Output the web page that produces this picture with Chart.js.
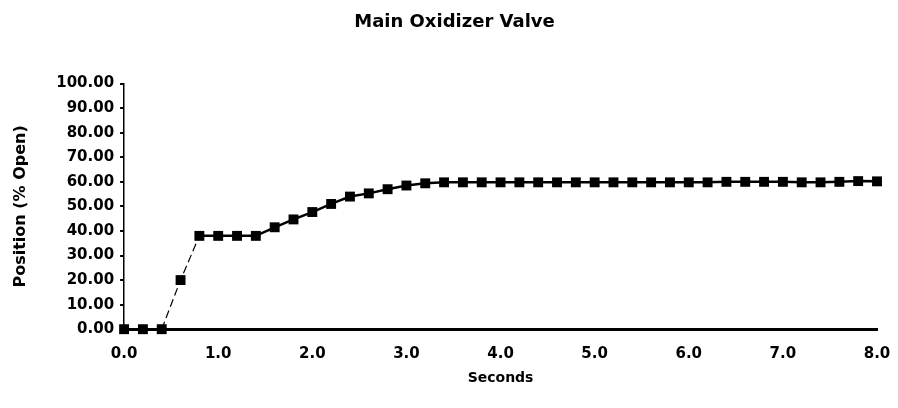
<!DOCTYPE html>
<html>
<head>
<meta charset="utf-8">
<script src="https://cdn.jsdelivr.net/npm/chart.js@4.4.0/dist/chart.umd.min.js"></script>
<style>
  html, body { margin: 0; padding: 0; background: #fff; }
  #wrap { width: 898px; height: 408px; position: relative; }
</style>
</head>
<body>
<div id="wrap"><canvas id="valveChart"></canvas></div>
<script>
// Time samples (seconds) and valve position (% open)
const seconds = [
  0.0, 0.2, 0.4, 0.6, 0.8, 1.0, 1.2, 1.4, 1.6, 1.8,
  2.0, 2.2, 2.4, 2.6, 2.8, 3.0, 3.2, 3.4, 3.6, 3.8,
  4.0, 4.2, 4.4, 4.6, 4.8, 5.0, 5.2, 5.4, 5.6, 5.8,
  6.0, 6.2, 6.4, 6.6, 6.8, 7.0, 7.2, 7.4, 7.6, 7.8, 8.0
];
const position = [
  0, 0, 0, 20, 38, 38, 38, 38, 41.5, 44.7,
  47.7, 51, 54, 55.3, 57, 58.5, 59.4, 59.8, 59.8, 59.8,
  59.8, 59.8, 59.8, 59.8, 59.8, 59.8, 59.8, 59.8, 59.8, 59.8,
  59.8, 59.8, 60, 60, 60, 60, 59.8, 59.8, 60, 60.3, 60.2
];
const xTicks = [0, 1, 2, 3, 4, 5, 6, 7, 8];
const yTicks = [0, 10, 20, 30, 40, 50, 60, 70, 80, 90, 100];

const points = seconds.map((s, i) => ({ x: s, y: position[i] }));
const fontFam = '"DejaVu Sans", sans-serif';
const steep = ctx => Math.abs(ctx.p1.parsed.y - ctx.p0.parsed.y) > 10;

new Chart(document.getElementById('valveChart'), {
    type: 'line',
    data: {
        datasets: [{
            label: 'Main Oxidizer Valve',
            data: points,
            borderColor: '#000',
            backgroundColor: '#000',
            borderWidth: 2.5,
            pointStyle: 'rect',
            pointRadius: 7,
            pointBorderWidth: 0,
            tension: 0,
            clip: false,
            segment: {
                // the steep opening ramp is drawn with a broken line
                borderDash: ctx => steep(ctx) ? [8, 4] : undefined,
                borderWidth: ctx => steep(ctx) ? 1.2 : 2.5
            }
        }]
    },
    options: {
        responsive: true,
        maintainAspectRatio: false,
        animation: false,
        layout: { autoPadding: false, padding: { top: 0, right: 0, bottom: 21, left: 11 } },
        plugins: {
            legend: { display: false },
            tooltip: { enabled: false },
            title: {
                display: true,
                text: 'Main Oxidizer Valve',
                color: '#000',
                font: { family: fontFam, size: 18, weight: 'bold' },
                padding: { top: 12, bottom: 50 }
            }
        },
        scales: {
            x: {
                type: 'linear',
                min: 0,
                max: 8,
                afterBuildTicks: axis => { axis.ticks = xTicks.map(v => ({ value: v })); },
                afterFit: axis => { axis.paddingRight = 21; },
                grid: { display: false, drawTicks: false },
                border: { display: true, color: '#000', width: 3 },
                ticks: {
                    color: '#000',
                    padding: 16,
                    font: { family: fontFam, size: 15, weight: 'bold' },
                    callback: v => v.toFixed(1)
                },
                title: {
                    display: true,
                    text: 'Seconds',
                    color: '#000',
                    font: { family: fontFam, size: 14, weight: 'bold' },
                    padding: { top: -9, bottom: 0 }
                }
            },
            y: {
                min: 0,
                max: 100,
                afterBuildTicks: axis => { axis.ticks = yTicks.map(v => ({ value: v })); },
                grid: { drawOnChartArea: false, drawTicks: true, tickLength: 4, color: '#000', lineWidth: 2 },
                border: { display: true, color: '#000', width: 1.5, dash: [3, 4] },
                ticks: {
                    color: '#000',
                    padding: 6,
                    font: { family: fontFam, size: 15, weight: 'bold' },
                    callback: v => v.toFixed(2)
                },
                title: {
                    display: true,
                    text: 'Position (% Open)',
                    color: '#000',
                    font: { family: fontFam, size: 16, weight: 'bold' },
                    padding: { top: 0, bottom: 20 }
                }
            }
        }
    }
});
</script>
</body>
</html>
